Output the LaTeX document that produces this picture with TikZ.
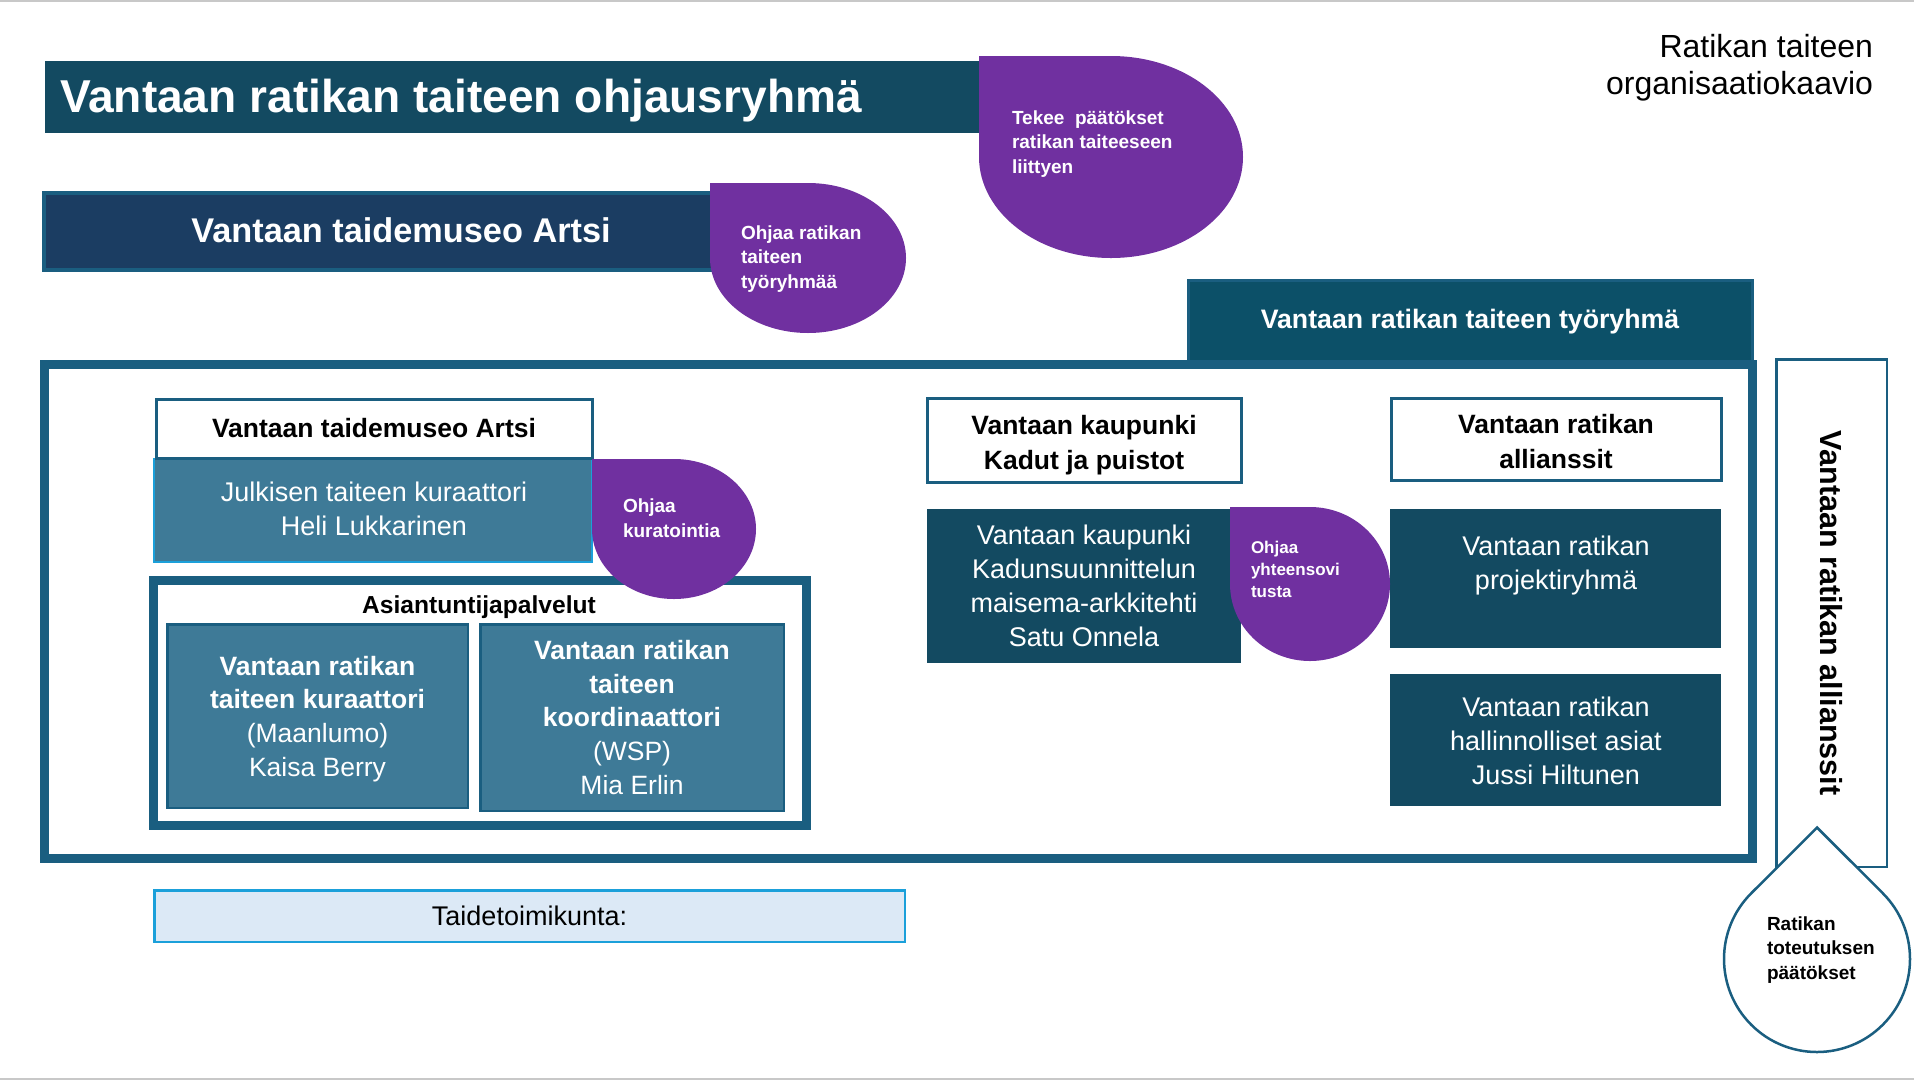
\documentclass[tikz,border=0pt]{standalone}
\usepackage{fontspec}
\setmainfont{Liberation Sans}
\definecolor{ttl}{HTML}{134A61}
\definecolor{navy}{HTML}{1B3D62}
\definecolor{edge}{HTML}{1A5E80}
\definecolor{purp}{HTML}{7030A0}
\definecolor{wg}{HTML}{0C5068}
\definecolor{steel}{HTML}{3E7A97}
\definecolor{lblue}{HTML}{1BA0DA}
\definecolor{pale}{HTML}{DCE9F6}
\definecolor{rulegray}{HTML}{C8C8C8}
\newcommand\purpblob[4]{%
  \pgfmathsetmacro\bcx{(#1+#3)/2}%
  \pgfmathsetmacro\brx{(#3-#1)/2}%
  \pgfmathsetmacro\bry{(#4-#2)/2}%
  \fill[purp] (#1,#2) -- (\bcx,#2) arc[start angle=90,end angle=-180,x radius=\brx pt,y radius=\bry pt] -- cycle;}
\tikzset{
  every node/.style={inner sep=0pt, outer sep=0pt},
  boxn/.style={rectangle, minimum width=#1},
  dark/.style={fill=ttl},
  steelbox/.style={fill=steel, draw=edge, line width=2.5pt},
  whitehead/.style={fill=white, draw=edge, line width=3pt},
  headtxt/.style={font=\bfseries\fontsize{26.5}{35}\selectfont, align=center, text=black},
  bodytxt/.style={font=\fontsize{27}{34}\selectfont, align=center, text=white},
  innertxt/.style={font=\fontsize{26.5}{33.7}\selectfont, align=center, text=white},
  blobtxt/.style={font=\bfseries\fontsize{19}{24.5}\selectfont, align=left, text=white, anchor=west},
}
\begin{document}
\begin{tikzpicture}[x=1pt,y=-1pt]
\useasboundingbox (0,0) rectangle (1914,1080);
\draw[rulegray, line width=2pt] (0,1) -- (1914,1);
\draw[rulegray, line width=2pt] (0,1079) -- (1914,1079);

% top title bar
\node[boxn=955pt, minimum height=72pt, dark] (ohjbar) at (522.5,97) {};
\node[anchor=base west, text=white, font=\bfseries\fontsize{46.1}{50}\selectfont] (ohjtxt) at (60,112) {Vantaan ratikan taiteen ohjausryhmä};
\purpblob{979}{56}{1243}{258}
\node[blobtxt] (tekee) at (1012,144) {\strut Tekee~ päätökset\\\strut ratikan taiteeseen\\\strut liittyen};

% title top right
\node[anchor=north east, align=right, font=\fontsize{32}{37}\selectfont] (kaavio) at (1873,32) {\strut Ratikan taiteen\\\strut organisaatiokaavio};

% Artsi bar
\node[boxn=696pt, minimum height=77pt, fill=navy, draw=edge, line width=4pt] (artsibar) at (392,231.5) {};
\node[anchor=base, text=white, font=\bfseries\fontsize{34.3}{40}\selectfont] (artsitxt) at (401,242) {Vantaan taidemuseo Artsi};
\purpblob{710}{183}{906}{333}
\node[blobtxt] (ohjaa1) at (741,259) {\strut Ohjaa ratikan\\\strut taiteen\\\strut työryhmää};

% working group bar
\node[boxn=564pt, minimum height=81.5pt, fill=wg, draw=edge, line width=3pt] (wgbar) at (1470.5,321.25) {};
\node[anchor=base, text=white, font=\bfseries\fontsize{26.7}{32}\selectfont] (wgtxt) at (1470,328) {Vantaan ratikan taiteen työryhmä};

% big frame
\node[boxn=1708pt, minimum height=494pt, draw=edge, line width=9pt] (frame) at (898,611) {};

% vertical alliance box
\node[boxn=110.5pt, minimum height=507.5pt, fill=white, draw=edge, line width=2.5pt] (allbox) at (1831.5,613) {};
\node[rotate=-90, font=\bfseries\fontsize{30.5}{36}\selectfont] (alltxt) at (1831,613) {Vantaan ratikan allianssit};

% teardrop
\filldraw[fill=white, draw=edge, line width=2.5pt] (1817,827.5) -- (1882.76,893.24) arc[start angle=45, end angle=-225, radius=93pt] -- cycle;
\node[anchor=west, align=left, font=\bfseries\fontsize{19}{24.5}\selectfont] (paatos) at (1767,950) {\strut Ratikan\\\strut toteutuksen\\\strut päätökset};

% left panel
\node[boxn=438pt, minimum height=103pt, fill=steel, draw=lblue, line width=2pt] (julk) at (373,510.5) {};
\node[boxn=436pt, minimum height=58.5pt, whitehead] (artsi2) at (374,428.75) {};
\node[headtxt, anchor=base] (artsi2txt) at (374,437) {Vantaan taidemuseo Artsi};
\node[bodytxt] (julktxt) at (374,512) {\strut Julkisen taiteen kuraattori\\\strut Heli Lukkarinen};

\node[boxn=652.5pt, minimum height=245.5pt, fill=white, draw=edge, line width=9pt] (asi) at (479.75,702.75) {};
\node[anchor=base, font=\bfseries\fontsize{24.6}{30}\selectfont] (asitxt) at (479,613) {Asiantuntijapalvelut};
\node[boxn=300.5pt, minimum height=183.5pt, steelbox] (kur) at (317.5,716) {};
\node[innertxt] (kurtxt) at (317.5,719) {\strut\textbf{Vantaan ratikan}\\\strut\textbf{taiteen kuraattori}\\\strut(Maanlumo)\\\strut Kaisa Berry};
\node[boxn=303.5pt, minimum height=186.5pt, steelbox] (koord) at (632,717.5) {};
\node[innertxt] (koordtxt) at (632,720) {\strut\textbf{Vantaan ratikan}\\\strut\textbf{taiteen}\\\strut\textbf{koordinaattori}\\\strut(WSP)\\\strut Mia Erlin};
\purpblob{592}{459}{756}{599}
\node[blobtxt] (ohjaa2) at (623,520) {\strut Ohjaa\\\strut kuratointia};

% right panel
\node[boxn=314pt, minimum height=84pt, whitehead] (kaup) at (1084.5,440.5) {};
\node[headtxt] (kauptxt) at (1084,444.5) {\strut Vantaan kaupunki\\\strut Kadut ja puistot};
\node[boxn=330pt, minimum height=82pt, whitehead] (allw) at (1556.5,439.5) {};
\node[headtxt] (allwtxt) at (1556,443.5) {\strut Vantaan ratikan\\\strut allianssit};
\node[boxn=314pt, minimum height=154pt, dark] (satu) at (1084,586) {};
\node[bodytxt] (satutxt) at (1084,589) {\strut Vantaan kaupunki\\\strut Kadunsuunnittelun\\\strut maisema-arkkitehti\\\strut Satu Onnela};
\node[boxn=331pt, minimum height=139pt, dark] (proj) at (1555.5,578.5) {};
\node[bodytxt] (projtxt) at (1556,566) {\strut Vantaan ratikan\\\strut projektiryhmä};
\node[boxn=331pt, minimum height=132pt, dark] (hall) at (1555.5,740) {};
\node[bodytxt] (halltxt) at (1556,744) {\strut Vantaan ratikan\\\strut hallinnolliset asiat\\\strut Jussi Hiltunen};
\purpblob{1230}{507}{1390}{661}
\node[blobtxt, font=\bfseries\fontsize{17}{22}\selectfont] (ohjaa3) at (1251,571) {\strut Ohjaa\\\strut yhteensovi\\\strut tusta};

% art committee
\node[boxn=750.5pt, minimum height=51.5pt, fill=pale, draw=lblue, line width=2.5pt] (taide) at (529.5,916) {};
\node[anchor=base, font=\fontsize{27}{32}\selectfont] (taidetxt) at (529.5,925) {Taidetoimikunta:};
\end{tikzpicture}
\end{document}
